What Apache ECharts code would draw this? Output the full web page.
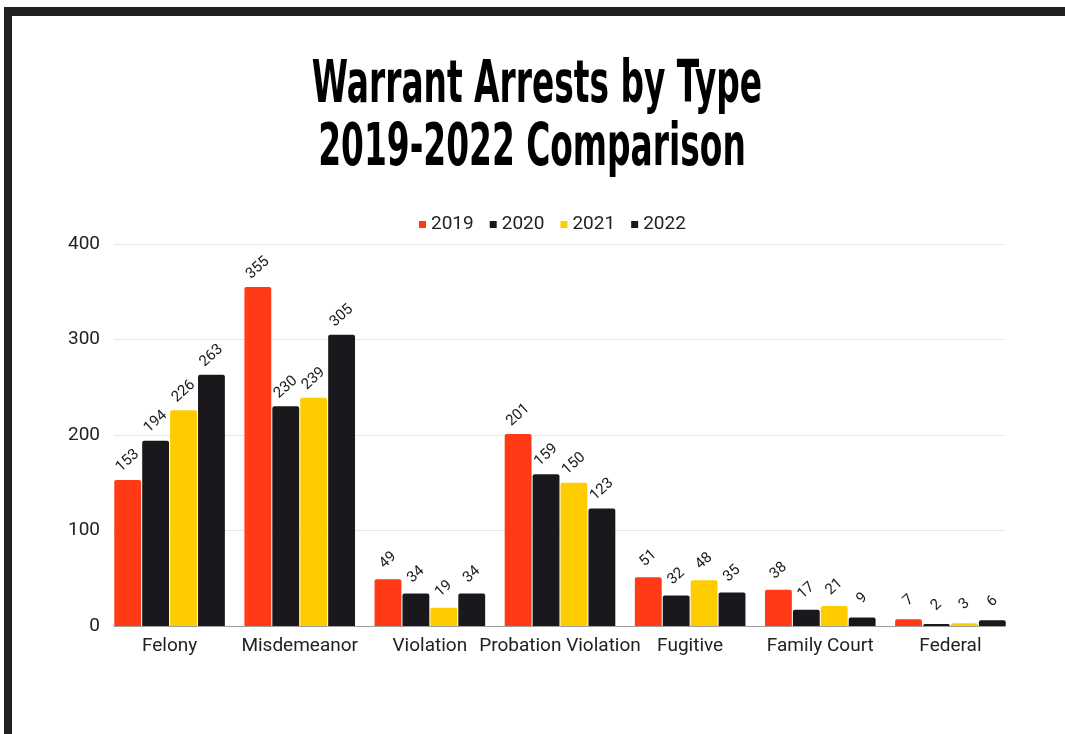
<!DOCTYPE html>
<html>
<head>
<meta charset="utf-8">
<style>
  html, body { margin: 0; padding: 0; background: #fff; }
  #chart { width: 1065px; height: 734px; }
</style>
<script src="https://cdn.jsdelivr.net/npm/echarts@6/dist/echarts.min.js"></script>
</head>
<body>
<div id="chart"></div>
<script>
const categories = ["Felony", "Misdemeanor", "Violation", "Probation Violation", "Fugitive", "Family Court", "Federal"];
const years = ["2019", "2020", "2021", "2022"];
const data2019 = [153, 355, 49, 201, 51, 38, 7];
const data2020 = [194, 230, 34, 159, 32, 17, 2];
const data2021 = [226, 239, 19, 150, 48, 21, 3];
const data2022 = [263, 305, 34, 123, 35, 9, 6];
const yTicks = [0, 100, 200, 300, 400];

const colors = ["#ff3a14", "#1a181c", "#ffcc00", "#1a181c"];
const seriesData = [data2019, data2020, data2021, data2022];
const font = "Roboto, 'Noto Sans', sans-serif";
const titleFont = "bold 44px 'Liberation Sans Narrow', 'DejaVu Sans Condensed', sans-serif";

const chart = echarts.init(document.getElementById("chart"));

chart.setOption({
  animation: false,
  color: colors,
  textStyle: { fontFamily: font },
  graphic: [
    // frame
    { type: "rect", shape: { x: 4, y: 7, width: 1061, height: 9 }, style: { fill: "#231f20" } },
    { type: "rect", shape: { x: 4, y: 7, width: 8, height: 727 }, style: { fill: "#231f20" } },
    // title lines
    {
      type: "text", x: 537, y: 87, scaleX: 0.83, scaleY: 1.35,
      style: {
        text: "Warrant Arrests by Type", x: 0, y: 0,
        textAlign: "center", textVerticalAlign: "middle",
        font: titleFont, fill: "#000"
      }
    },
    {
      type: "text", x: 532, y: 150, scaleX: 0.83, scaleY: 1.35,
      style: {
        text: "2019-2022 Comparison", x: 0, y: 0,
        textAlign: "center", textVerticalAlign: "middle",
        font: titleFont, fill: "#000"
      }
    }
  ],
  legend: {
    top: 210,
    left: 414,
    icon: "rect",
    itemWidth: 7,
    itemHeight: 7,
    itemGap: 16,
    textStyle: { fontSize: 19, color: "#222", fontFamily: font },
    data: years
  },
  grid: [
    // gridlines / y labels
    { left: 114, right: 60, top: 244, bottom: 108 },
    // bars
    { left: 104.5, right: 49.5, top: 244, bottom: 108 }
  ],
  xAxis: [
    {
      gridIndex: 0, type: "category", data: categories,
      axisLine: { lineStyle: { color: "#9e9e9e" } },
      axisTick: { show: false }, axisLabel: { show: false }
    },
    {
      gridIndex: 1, type: "category", data: categories,
      axisLine: { show: false }, axisTick: { show: false },
      axisLabel: { fontSize: 19, color: "#222", margin: 11, interval: 0, fontFamily: font }
    }
  ],
  yAxis: [
    {
      gridIndex: 0, type: "value", min: 0, max: 400, interval: 100,
      axisLabel: {
        fontSize: 19, color: "#222", margin: 14, fontFamily: font,
        formatter: v => yTicks.includes(v) ? String(v) : ""
      },
      splitLine: { lineStyle: { color: "#e6e6e6" } },
      axisLine: { show: false }, axisTick: { show: false }
    },
    {
      gridIndex: 1, type: "value", min: 0, max: 400, interval: 100,
      axisLabel: { show: false }, splitLine: { show: false },
      axisLine: { show: false }, axisTick: { show: false }
    }
  ],
  series: years.map((y, i) => ({
    name: y,
    type: "bar",
    xAxisIndex: 1,
    yAxisIndex: 1,
    data: seriesData[i],
    barCategoryGap: "15%",
    barGap: "4%",
    itemStyle: { color: colors[i], borderRadius: [2, 2, 0, 0] },
    label: {
      show: true,
      position: "top",
      distance: 19,
      rotate: 42,
      align: "center",
      verticalAlign: "middle",
      fontSize: 15,
      color: "#1a1a1a",
      fontFamily: font
    }
  }))
});
</script>
</body>
</html>
